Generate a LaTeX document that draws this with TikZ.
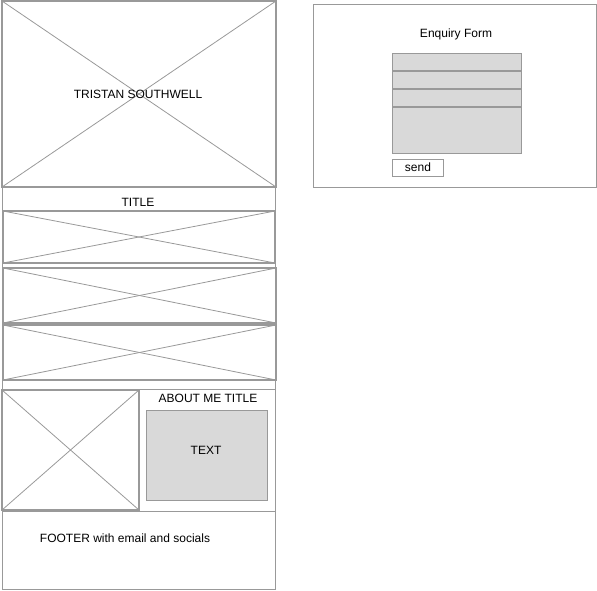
\documentclass[tikz,border=0pt]{standalone}
\usepackage{fontspec}
\setmainfont{Liberation Sans}
\definecolor{wireline}{HTML}{999999}
\definecolor{wirefill}{HTML}{D9D9D9}
\tikzset{
  frame/.style={draw=wireline, line width=1pt},
  picframe/.style={draw=wireline, line width=1.3pt},
  cross/.style={draw=wireline, line width=0.8pt},
  field/.style={draw=wireline, fill=wirefill, line width=1pt},
  label/.style={font=\fontsize{12pt}{14pt}\selectfont, text=black, inner sep=0pt}
}
\newcommand{\placeholder}[2]{%
  \draw[cross] (#1) -- (#2);
  \draw[cross] (#1 |- #2) -- (#2 |- #1);
  \draw[picframe] (#1) rectangle (#2);
}
\begin{document}
\begin{tikzpicture}[x=1pt,y=-1pt]
			\useasboundingbox (0,0) rectangle (597,590);
			%% hero image
			\coordinate (heroA) at (2,1);
			\coordinate (heroB) at (276,187);
			\placeholder{heroA}{heroB}
			\node[label] (hero) at (138,94) {TRISTAN SOUTHWELL};
			%% gallery block
			\draw[frame] (2,187) rectangle (275,389);
			\node[label] (title) at (138,202) {TITLE};
			\coordinate (galAa) at (3,211);
			\coordinate (galAb) at (275,263);
			\placeholder{galAa}{galAb}
			\coordinate (galBa) at (3,268);
			\coordinate (galBb) at (276,323);
			\placeholder{galBa}{galBb}
			\coordinate (galCa) at (3,325);
			\coordinate (galCb) at (276,380);
			\placeholder{galCa}{galCb}
			%% about me block
			\draw[frame] (2,389) rectangle (275,511);
			\coordinate (aboutA) at (2,390);
			\coordinate (aboutB) at (139,510);
			\placeholder{aboutA}{aboutB}
			\node[label] (abouttitle) at (208,398) {ABOUT ME TITLE};
			\draw[field] (146,410) rectangle (267,500);
			\node[label] (abouttext) at (206,450) {TEXT};
			%% footer
			\draw[frame] (2,511) rectangle (275,589);
			\node[label] (footer) at (125,538) {FOOTER with email and socials};
			%% enquiry form
			\draw[frame] (313,4) rectangle (596,187);
			\node[label] (formtitle) at (456,34) {Enquiry Form};
			\foreach \top/\bot in {53/71, 71/89, 89/107, 107/153}
				\draw[field] (392,\top) rectangle (521,\bot);
			%% field separators
			\foreach \sep in {71, 89, 107}
				\draw[wireline, line width=1.6pt] (392,\sep) -- (521,\sep);
			\draw[frame] (392,159) rectangle (443,176);
			\node[label] (send) at (418,167) {send};
		\end{tikzpicture}
\end{document}
